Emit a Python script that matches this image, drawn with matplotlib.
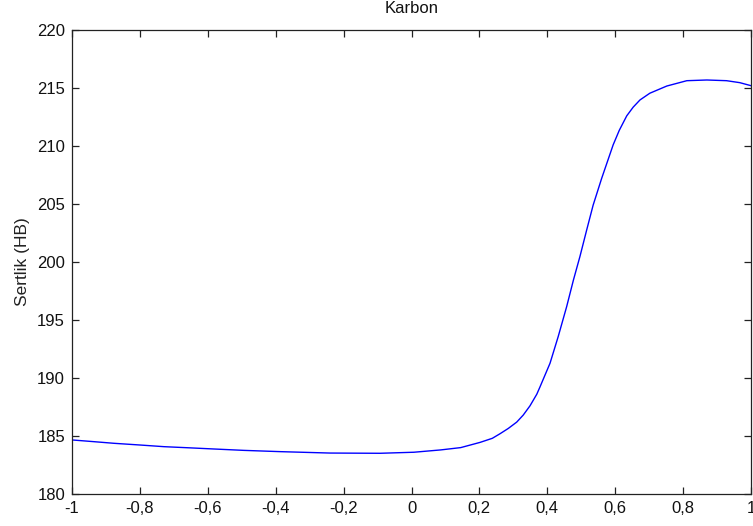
import matplotlib
matplotlib.use("Agg")
import matplotlib.pyplot as plt
from matplotlib.ticker import FuncFormatter

# Data
karbon_x = [-1.0, -0.935, -0.876, -0.798, -0.729, -0.661, -0.582, -0.493, -0.385,
            -0.24, -0.093, 0.007, 0.086, 0.145, 0.202, 0.238, 0.261, 0.285, 0.310,
            0.329, 0.349, 0.369, 0.378, 0.408, 0.432, 0.457, 0.477, 0.496, 0.516,
            0.535, 0.560, 0.594, 0.612, 0.634, 0.653, 0.673, 0.702, 0.752, 0.811,
            0.870, 0.928, 0.967, 1.0]
sertlik = [184.66, 184.51, 184.37, 184.22, 184.08, 183.99, 183.88, 183.76, 183.65,
           183.53, 183.51, 183.6, 183.8, 184.0, 184.45, 184.8, 185.2, 185.65, 186.2,
           186.8, 187.6, 188.6, 189.2, 191.27, 193.56, 196.15, 198.45, 200.46, 202.76,
           204.9, 207.2, 210.1, 211.35, 212.6, 213.35, 213.97, 214.55, 215.17, 215.63,
           215.69, 215.63, 215.46, 215.2]

x_ticks = [-1, -0.8, -0.6, -0.4, -0.2, 0, 0.2, 0.4, 0.6, 0.8, 1]
y_ticks = [180, 185, 190, 195, 200, 205, 210, 215, 220]

plt.rcParams['font.family'] = ['Liberation Sans', 'DejaVu Sans']

W, H = 753, 526
fig = plt.figure(figsize=(W / 100, H / 100), dpi=100)
left, right, top, bottom = 72, 751, 30, 494
ax = fig.add_axes([left / W, 1 - bottom / H, (right - left) / W, (bottom - top) / H])

ax.plot(karbon_x, sertlik, color=(0, 0, 1), linewidth=1.0)

ax.set_xlim(-1, 1)
ax.set_ylim(180, 220)
ax.set_xticks(x_ticks)
ax.set_yticks(y_ticks)

def comma_fmt(v, pos):
    s = ('%g' % round(v, 2))
    if s == '-0':
        s = '0'
    return s.replace('.', ',')

ax.xaxis.set_major_formatter(FuncFormatter(comma_fmt))
ax.yaxis.set_major_formatter(FuncFormatter(comma_fmt))

ax.tick_params(direction='in', length=5, width=0.9, colors='#222222',
               top=True, right=True, labelsize=12, labelcolor='#111111')
ax.tick_params(axis='y', pad=5)
ax.tick_params(axis='x', pad=5)
for sp in ax.spines.values():
    sp.set_linewidth(0.9)
    sp.set_color('#222222')

ax.set_title('Karbon', fontsize=12, pad=12, color='#111111')
ax.set_ylabel('Sertlik (HB)', fontsize=12.5, labelpad=5, color='#222222')

fig.savefig('out.png', dpi=100)
